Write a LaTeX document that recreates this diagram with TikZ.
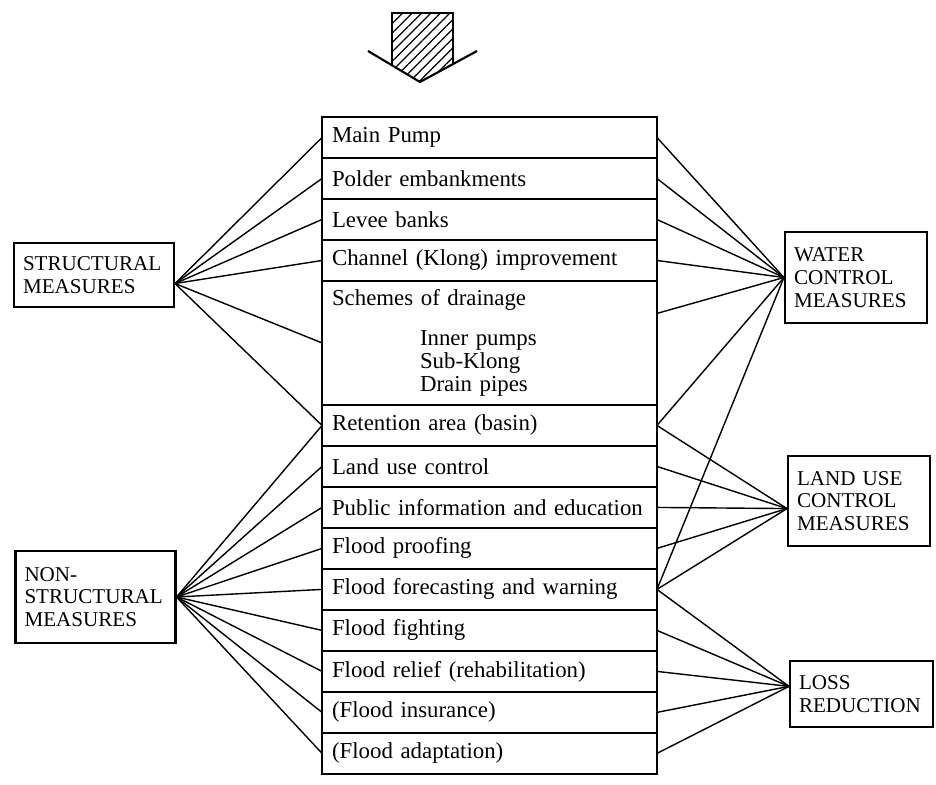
\documentclass[tikz,border=0pt]{standalone}
\usepackage{fontspec}
\setmainfont{Liberation Serif}
\usetikzlibrary{positioning, patterns.meta}

\begin{document}
\begin{tikzpicture}[x=0.02cm, y=-0.02cm, node distance = 0pt,
item/.style={rectangle, draw, very thick, align=left, text width=6.3cm, inner xsep=0.2cm, inner ysep=0pt, outer sep=0pt, minimum height=0.82cm, font=\fontsize{13}{13}\selectfont},
measure/.style={rectangle, draw, very thick, align=left, text width=#1, inner xsep=0.18cm, font=\fontsize{12}{13}\selectfont},
link/.style={thick},
]
\useasboundingbox (0,0) rectangle (936,784);

%Arrow
\path [pattern={Lines[angle=45, distance=3.8pt, line width=0.7pt]}] (392,13) -- (453,13) -- (453,64) -- (420,82) -- (392,65) -- cycle;
\draw [very thick] (392,65) -- (392,13) -- (453,13) -- (453,64);
\draw [very thick] (368,51) -- (420,82) -- (477,51);

%Nodes
\node [item, anchor=north] (pump) at (489.5,117) {Main Pump};
\node [item] (polder) [below = of pump] {Polder embankments};
\node [item] (levee) [below = of polder] {Levee banks};
\node [item] (channel) [below = of levee] {Channel (Klong) improvement};
\node [item, minimum height=2.48cm] (drainage) [below = of channel] {Schemes of drainage\\[10pt]\hspace*{1.76cm}Inner pumps\\\hspace*{1.76cm}Sub-Klong\\\hspace*{1.76cm}Drain pipes};
\node [item] (retention) [below = of drainage] {Retention area (basin)};
\node [item] (landuse) [below = of retention] {Land use control};
\node [item] (publicinfo) [below = of landuse] {Public information and education};
\node [item] (proofing) [below = of publicinfo] {Flood proofing};
\node [item] (forecast) [below = of proofing] {Flood forecasting and warning};
\node [item] (fighting) [below = of forecast] {Flood fighting};
\node [item] (relief) [below = of fighting] {Flood relief (rehabilitation)};
\node [item] (insurance) [below = of relief] {(Flood insurance)};
\node [item] (adaptation) [below = of insurance] {(Flood adaptation)};

\node [measure=2.84cm, minimum height=1.28cm] (struct) at (94,275) {STRUCTURAL\\MEASURES};
\node [measure=2.84cm, minimum height=1.84cm] (nonstruct) at (95.5,597) {NON-\\STRUCTURAL\\MEASURES};
\node [measure=2.48cm, minimum height=1.82cm] (water) at (856,277.5) {WATER\\CONTROL\\MEASURES};
\node [measure=2.48cm, minimum height=1.8cm] (landctrl) at (859,501) {LAND USE\\CONTROL\\MEASURES};
\node [measure=2.5cm, minimum height=1.32cm] (loss) at (861.5,694) {LOSS\\REDUCTION};

% Paths
\draw [link] (struct.-6) edge (pump.west) edge (polder.west) edge (levee.west) edge (channel.west) edge (drainage.west) edge (retention.west);
\draw [link] (nonstruct.east) edge (retention.west) edge (landuse.west) edge (publicinfo.west) edge (proofing.west) edge (forecast.west) edge (fighting.west) edge (relief.west) edge (insurance.west) edge (adaptation.west);

\draw [link] (water.west) edge (pump.east) edge (polder.east) edge (levee.east) edge (channel.east) edge (drainage.10) edge (retention.east) edge (forecast.east);
\draw [link] (landctrl.186) edge (retention.east) edge (landuse.east) edge (publicinfo.east) edge (proofing.east) edge (forecast.east);
\draw [link] (loss.174) edge (forecast.east) edge (fighting.east) edge (relief.east) edge (insurance.east) edge (adaptation.east);
\end{tikzpicture}
\end{document}
